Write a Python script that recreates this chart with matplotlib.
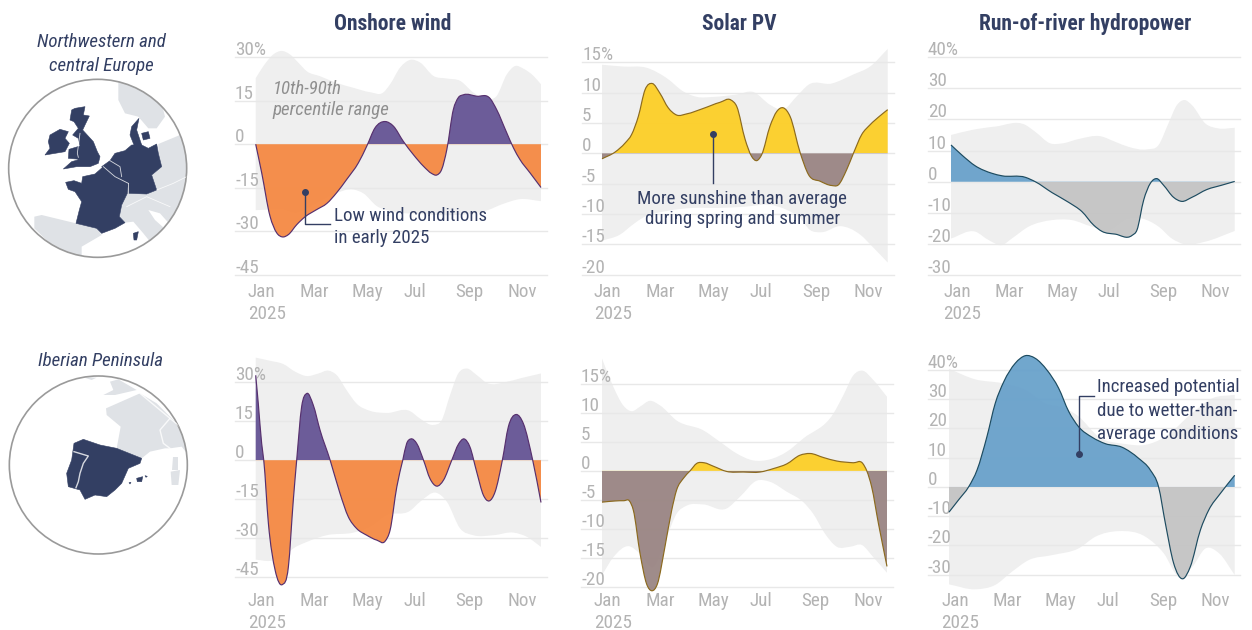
"""Renewable capacity factor anomalies, 2025, two regions by three technologies."""

import matplotlib
matplotlib.use("Agg")
import numpy as np
import matplotlib.pyplot as plt
from matplotlib import font_manager
from matplotlib.patches import Circle, PathPatch, Polygon, Rectangle
from matplotlib.path import Path
from matplotlib.transforms import ScaledTranslation

W, H = 1252, 630
NAVY = "#333f63"
TICK_GREY = "#b3b3b3"
BAND = "#efefef"
GRID = "#e8e8e8"

installed = {f.name for f in font_manager.fontManager.ttflist}
FONT = "Roboto Condensed" if "Roboto Condensed" in installed else "Roboto"
plt.rcParams["font.family"] = [FONT, "DejaVu Sans"]

month_ticks = [0, 2, 4, 6, 8, 10]
month_labels = ["Jan\n2025", "Mar", "May", "Jul", "Sep", "Nov"]

# x in months after January, y in percent
wind_nw_x = [0, .23, .55, .81, 1.03, 1.26, 1.58, 1.90, 2.35, 2.74, 3.12, 3.51, 3.96, 4.28, 4.60, 4.99, 5.31, 5.69,
             6.08, 6.47, 6.79, 6.98, 7.17, 7.37, 7.62, 7.81, 8.01, 8.52, 9.04, 9.29, 9.68, 9.94, 10.19, 10.58, 11]
wind_nw_y = [0, -9.8, -24.7, -30.5, -31.9, -31.1, -27.7, -25.0, -22.5, -20.4, -16.7, -12.1, -6.4, -.7, 5.6, 7.8, 6.2,
             1.0, -3.6, -7.6, -10.1, -10.6, -8.7, -1.8, 11.9, 16.0, 17.0, 16.5, 15.7, 11.9, 3.9, -1.3, -5.3, -9.9, -14.9]
wind_nw_hi_x = [0, .3, .68, 1, 1.32, 1.65, 1.97, 2.48, 3.12, 3.77, 4.41, 4.92, 5.18, 5.57, 5.95, 6.34, 6.85, 7.37,
                7.88, 8.39, 8.91, 9.29, 9.68, 10, 10.32, 10.71, 11]
wind_nw_hi = [22.7, 26.9, 30.9, 32.1, 30.9, 28, 25.1, 23.4, 21.1, 19.4, 17.9, 17.8, 20.6, 26.4, 29, 28.1, 23.5, 22.6,
              21.8, 17.8, 15.5, 16.6, 24, 26.9, 26, 23.5, 20.6]
wind_nw_lo_x = [0, .55, 1.07, 1.58, 1.9, 2.48, 2.99, 3.77, 4.15, 4.67, 5.18, 6.34, 7.62, 8.91, 9.55, 10.19, 11]
wind_nw_lo = [-22.7, -22.5, -22.5, -23.6, -22.5, -19.6, -17.3, -15.6, -16.9, -21.3, -23, -24, -24.4, -22.8, -20.5,
              -18.9, -19.6]

wind_ib_x = [0, .1, .23, .31, .49, .75, 1.03, 1.26, 1.45, 1.58, 1.77, 1.97, 2.22, 2.48, 2.87, 3.25, 3.57, 3.89, 4.28,
             4.67, 4.99, 5.18, 5.44, 5.67, 5.82, 5.99, 6.21, 6.47, 6.72, 6.98, 7.24, 7.56, 7.82, 8.03, 8.26, 8.52, 8.78,
             9, 9.23, 9.51, 9.74, 10.04, 10.32, 10.68, 11]
wind_ib_y = [32.7, 21.8, 6.4, 0, -24.4, -42.4, -47.9, -41.1, -15.4, 0, 20.5, 25.7, 21.2, 11.6, 0, -12.8, -21.8, -26.3,
             -28.9, -30.8, -31.2, -27, -10.3, 0, 6.4, 8.2, 6.4, 0, -7.1, -10, -7.7, 0, 6.2, 8.2, 5.1, -4.5, -13.5,
             -15.7, -12.2, 0, 12.8, 17.6, 14.1, 0, -16.3]
wind_ib_hi_x = [0, .55, 1.07, 1.52, 1.97, 2.42, 2.8, 3.12, 3.51, 3.89, 4.41, 5.05, 5.95, 6.34, 6.85, 7.17, 7.49, 7.81,
                8.14, 8.52, 8.91, 9.68, 10.19, 11]
wind_ib_hi = [39.5, 38.3, 37, 34.1, 32.4, 33.4, 34.5, 32.8, 26.9, 21.8, 19, 18.2, 18.9, 16, 13.6, 15.4, 25, 33.4, 35.3,
              32.8, 29.8, 30.2, 31.5, 33.4]
wind_ib_lo_x = [0, .55, 1.07, 1.45, 1.97, 2.74, 3.77, 4.41, 5.05, 5.95, 6.34, 6.98, 7.37, 7.88, 8.39, 9.17, 9.94, 10.45,
                11]
wind_ib_lo = [-38.3, -38.8, -37.2, -34, -31.5, -28.9, -27.9, -25.7, -21.2, -19.5, -16, -12.6, -16, -26.3, -28.9, -28.9,
              -27.9, -29.5, -33.4]

solar_nw_x = [0, .5, .89, 1.14, 1.4, 1.66, 1.94, 2.23, 2.55, 2.88, 3.26, 3.9, 4.54, 4.96, 5.19, 5.51, 5.76, 5.96, 6.15,
              6.47, 6.73, 6.98, 7.24, 7.63, 7.95, 8.4, 8.84, 9.1, 9.42, 9.68, 10, 10.32, 10.71, 11]
solar_nw_y = [-.9, .2, 1.7, 3.1, 6.1, 10.5, 11.5, 9.9, 7.5, 6.3, 6.5, 7.4, 8.4, 8.8, 7.7, 2.3, -.5, -1.2, -.2, 4.5, 6.9,
              7.5, 6.1, .1, -3.5, -4.6, -5.3, -5.2, -2.7, 0, 3.1, 4.7, 6.2, 7.2]
solar_nw_hi_x = [0, .82, 1.72, 2.49, 3.13, 3.65, 4.29, 5.19, 5.83, 6.47, 6.98, 7.5, 7.95, 8.84, 9.68, 10.32, 11]
solar_nw_hi = [14.6, 14.3, 14.1, 12.4, 10.2, 9.3, 9.3, 9.7, 10.1, 8, 7.2, 9.4, 11.3, 11.5, 13, 14.3, 17.2]
solar_nw_lo_x = [0, .69, 1.2, 1.58, 2.5, 3.5, 4.5, 5.5, 6.5, 7.1, 7.63, 8, 8.46, 9.17, 9.94, 10.44, 11]
solar_nw_lo = [-14.4, -13.4, -11.7, -10.6, -9.5, -9, -9, -8.8, -8.5, -9.3, -10.7, -12.6, -13, -12, -13.4, -15.5, -18]

solar_ib_x = [0, .5, .85, 1.06, 1.21, 1.47, 1.72, 1.93, 2.14, 2.43, 2.69, 2.88, 3.14, 3.4, 3.66, 3.94, 4.3, 4.81, 5.46,
              6.1, 6.62, 7.13, 7.64, 8.03, 8.55, 9.06, 9.7, 10.06, 10.22, 10.41, 10.67, 11]
solar_ib_y = [-5.4, -5.2, -5.15, -5.2, -6.8, -14.3, -19.5, -20.7, -19.5, -13.1, -6.8, -3.3, -1.3, 0, 1.3, 1.4, .8, -.1,
              -.2, -.2, .4, 1.2, 2.7, 3, 2.3, 1.7, 1.4, 1.3, 0, -2.8, -9.1, -16.5]
solar_ib_hi_x = [0, .44, .82, 1.15, 1.47, 1.85, 2.24, 2.88, 3.91, 4.56, 5.2, 5.84, 6.49, 7.13, 7.77, 8.93, 9.32, 9.7,
                 10.06, 10.47, 11]
solar_ib_hi = [19.4, 14.5, 11.3, 10.3, 11.1, 12.1, 11.3, 8.7, 7, 5, 3, 1.8, 2, 3.3, 5.6, 9.9, 13.1, 16.5, 17.3, 15.7,
               12.8]
solar_ib_lo_x = [0, .44, 1.02, 1.47, 1.98, 2.5, 2.88, 3.27, 3.91, 4.81, 5.32, 5.97, 6.49, 7.13, 7.77, 8.15, 8.6, 9.06,
                 9.58, 10.03, 10.47, 11]
solar_ib_lo = [-18, -14.9, -13, -14.3, -16.6, -11.4, -7.4, -6, -5.8, -6.5, -4.5, -1.7, -1.9, -3.6, -5.4, -7.4, -10.8,
               -13.1, -13.1, -12.8, -14.9, -17.6]

hydro_nw_x = [0, .43, .94, 1.59, 1.98, 2.89, 3.27, 3.92, 4.56, 5.08, 5.53, 5.85, 6.37, 7.02, 7.21, 7.47, 7.73, 7.98,
              8.24, 8.63, 8.95, 9.34, 9.92, 10.5, 11]
hydro_nw_y = [11.8, 8.5, 5.1, 2.7, 1.9, 1.4, 0, -3.5, -6.6, -9.6, -13.9, -15.9, -16.8, -17.2, -15.5, -5.9, -.5, 1, -1.1,
              -5, -6.3, -5, -2.5, -1.1, .1]
hydro_nw_hi_x = [0, .81, 1.72, 2.89, 3.27, 3.85, 4.31, 4.95, 5.79, 6.37, 6.88, 7.6, 8.05, 8.43, 8.76, 9.06, 9.34, 9.86,
                 10.37, 11]
hydro_nw_hi = [15, 16.6, 17.7, 18.2, 16, 12.3, 12.3, 13.7, 14.6, 12.8, 11.2, 10.4, 11.8, 18.7, 24.6, 26.2, 24.6, 18.7,
               17.1, 17.3]
hydro_nw_lo_x = [0, .94, 1.46, 1.98, 2.36, 3.01, 3.92, 4.69, 5.46, 6.11, 6.88, 7.4, 8.05, 8.56, 9.08, 9.86, 11]
hydro_nw_lo = [-18.2, -16, -18.7, -20.3, -18.2, -14.4, -12.3, -12.3, -14.4, -15.5, -11.8, -11.8, -14.4, -18.2, -20.1,
               -19.2, -15.8]

hydro_ib_x = [0, .37, .76, 1.08, 1.46, 1.78, 2.11, 2.55, 2.94, 3.32, 3.77, 4.22, 4.61, 4.99, 5.51, 6.02, 6.66, 7.3,
              7.75, 8.07, 8.33, 8.65, 9, 9.29, 9.68, 10, 10.45, 11]
hydro_ib_y = [-8.6, -4.4, .1, 5.8, 17.2, 28.6, 36, 42.3, 44.9, 44, 40, 33.8, 25.8, 20.6, 17, 14.8, 13.6, 9.8, 5.8, 0,
              -12.4, -26.1, -31.4, -27.3, -14.7, -7.9, -2.2, 4]
hydro_ib_hi_x = [0, 1.01, 2.04, 2.94, 3.71, 4.48, 4.99, 5.76, 6.79, 7.56, 8.33, 9.35, 10.13, 11]
hydro_ib_hi = [40.4, 36.8, 35.5, 33.2, 28.6, 26.9, 24.1, 17.2, 14.7, 14.4, 17.2, 25.2, 30.3, 31.5]
hydro_ib_lo_x = [0, 1.01, 1.78, 2.42, 3.07, 3.97, 4.99, 5.64, 6.53, 7.56, 8.27, 8.85, 9.37, 9.88, 10.4, 11]
hydro_ib_lo = [-33.3, -35, -33.5, -29, -25, -23.3, -21, -17, -15.1, -17, -22.7, -30.7, -27.3, -21, -22.7, -30.1]

wind_ticks = [30, 15, 0, -15, -30, -45]
solar_ticks = [15, 10, 5, 0, -5, -10, -15, -20]
hydro_ticks = [40, 30, 20, 10, 0, -10, -20, -30]

# map outlines, in 3x pixels of the map box
nw_navy = [
    [(197, 487), (222, 482), (245, 490), (248, 470), (285, 462), (310, 440), (330, 460), (385, 490), (382, 520),
     (365, 555), (358, 590), (375, 608), (345, 625), (305, 640), (290, 625), (228, 610), (238, 570), (245, 545),
     (225, 515), (205, 508)],
    [(305, 440), (330, 422), (345, 400), (375, 392), (395, 375), (425, 375), (445, 385), (470, 372), (475, 400),
     (485, 440), (455, 465), (470, 510), (440, 522), (385, 520), (385, 490), (330, 460)],
    [(395, 320), (417, 295), (410, 330), (425, 375), (402, 375), (390, 345)],
    [(425, 340), (445, 335), (450, 355), (430, 360)],
    [(225, 265), (255, 260), (250, 285), (268, 288), (255, 315), (248, 330), (280, 365), (292, 395), (300, 410),
     (295, 430), (270, 440), (230, 440), (190, 447), (215, 425), (240, 418), (205, 415), (207, 388), (240, 378),
     (235, 355), (218, 345), (235, 325), (222, 305), (210, 300), (215, 270)],
    [(150, 345), (180, 328), (205, 335), (195, 355), (208, 370), (195, 395), (135, 405), (150, 385), (145, 365)],
    [(400, 640), (415, 635), (410, 660), (402, 660)],
]
nw_grey = [
    [(355, 185), (420, 200), (480, 230), (495, 290), (470, 325), (445, 325), (415, 290), (375, 280), (355, 240)],
    [(475, 372), (540, 345), (575, 420), (570, 560), (520, 625), (480, 580), (445, 570), (465, 600), (510, 640),
     (470, 690), (430, 640), (400, 605), (375, 608), (358, 590), (365, 555), (382, 520), (440, 522), (470, 510),
     (455, 465), (485, 440), (475, 400)],
    [(103, 590), (125, 585), (228, 610), (290, 625), (305, 645), (245, 680), (245, 715), (170, 690), (103, 625)],
]
nw_borders = [
    [(310, 440), (345, 470), (385, 490)], [(330, 422), (360, 440), (365, 470)], [(240, 340), (232, 400), (235, 412)],
    [(385, 520), (385, 490)], [(470, 510), (520, 490), (560, 470)], [(380, 560), (440, 530), (510, 560)],
]
ib_navy = [
    [(222, 310), (250, 298), (300, 315), (350, 325), (425, 355), (420, 370), (385, 385), (365, 430), (345, 450),
     (320, 470), (285, 465), (255, 478), (240, 450), (205, 440), (200, 400), (215, 360)],
    [(410, 415), (428, 410), (425, 425), (412, 425)],
    [(435, 407), (442, 409), (438, 412)],
    [(387, 428), (393, 427), (390, 432)],
]
ib_grey = [
    [(318, 205), (420, 160), (470, 190), (510, 230), (552, 270), (565, 345), (545, 320), (510, 325), (495, 325),
     (450, 335), (425, 355), (350, 325), (362, 260), (320, 225)],
    [(310, 165), (340, 150), (330, 125), (355, 118), (410, 150), (345, 165)],
    [(250, 112), (290, 113), (275, 120)],
    [(520, 350), (535, 350), (535, 390), (515, 390)],
    [(512, 395), (540, 390), (535, 435), (515, 435)],
]
ib_borders = [
    [(222, 335), (265, 348), (250, 370), (240, 400), (235, 425), (228, 443)],
    [(420, 160), (480, 210), (510, 235), (480, 270), (490, 310), (510, 325)],
    [(510, 235), (552, 270)],
]


def px_axes(x0, y0, x1, y1):
    return fig.add_axes([x0 / W, 1 - y1 / H, (x1 - x0) / W, (y1 - y0) / H])


def curve(x, y):
    """Bezier segments through the read points, tangents from the neighbours."""
    x, y = np.asarray(x, float), np.asarray(y, float)
    m = np.gradient(y, x)
    verts = [(x[0], y[0])]
    for i in range(len(x) - 1):
        h = (x[i + 1] - x[i]) / 3
        verts += [(x[i] + h, y[i] + m[i] * h), (x[i + 1] - h, y[i + 1] - m[i + 1] * h), (x[i + 1], y[i + 1])]
    return verts


def codes_for(n_curve_verts, first=Path.MOVETO):
    return [first] + [Path.CURVE4] * (n_curve_verts - 1)


def draw_panel(box, ticks, label_top, x, y, hi_x, hi, lo_x, lo, pos, neg, edge, fill_alpha=.93):
    x0, y_top, x1, y_bottom, x_start, x_end = box
    ax = px_axes(x0, y_top, x1, y_bottom)
    per_month = (x_end - x_start) / 11

    top = curve(hi_x, hi)
    bottom = curve(lo_x[::-1], lo[::-1])
    band = Path(top + bottom + [top[0]],
                codes_for(len(top)) + codes_for(len(bottom), Path.LINETO) + [Path.LINETO])
    ax.add_patch(PathPatch(band, fc=BAND, ec="none", zorder=.2, clip_on=False))

    line = curve(x, y)
    area = Path(line + [(x[-1], 0), (x[0], 0), line[0]],
                codes_for(len(line)) + [Path.LINETO] * 3)
    for color, rect_y, rect_h in [(pos, 0, 300), (neg, -300, 300)]:
        patch = PathPatch(area, fc=color, ec="none", alpha=fill_alpha, zorder=2)
        ax.add_patch(patch)
        patch.set_clip_path(Rectangle((-2, rect_y), 16, rect_h, transform=ax.transData))
    ax.add_patch(PathPatch(Path(line, codes_for(len(line))), fc="none", ec=edge, lw=.85, zorder=3, clip_on=False))

    ax.set_xlim(-(x_start - x0) / per_month, 11 + (x1 - x_end) / per_month)
    ax.set_ylim(min(ticks), max(ticks))
    ax.set_yticks(ticks)
    labels = [str(t) for t in ticks]
    labels[0] += "%"
    ax.set_yticklabels(labels, ha="left", va="bottom", color=TICK_GREY, fontsize=TICK_SIZE)
    ax.set_xticks(month_ticks)
    ax.set_xticklabels(month_labels, color=TICK_GREY, fontsize=TICK_SIZE, linespacing=1.27, ha="left", va="top")
    ax.tick_params(axis="both", length=0)
    ax.tick_params(axis="y", pad=0)
    ax.tick_params(axis="x", pad=(label_top - y_bottom) * .72)
    # set after tick_params, which resets the label transforms
    for lab in ax.get_xticklabels():
        lab.set_transform(lab.get_transform() + ScaledTranslation(-8 / 100, 0, fig.dpi_scale_trans))
    for lab in ax.get_yticklabels():
        lab.set_transform(lab.get_transform() + ScaledTranslation(0, -2 / 100, fig.dpi_scale_trans))
    ax.grid(axis="y", color=GRID, lw=1)
    for g in ax.get_ygridlines():
        g.set_clip_on(False)
    ax.set_axisbelow(True)
    ax.patch.set_visible(False)
    for s in ax.spines.values():
        s.set_visible(False)
    return ax


def draw_map(y_origin, navy, grey, borders, center, border_lw):
    ax = px_axes(0, y_origin, 200, y_origin + 270)
    ax.set_xlim(0, 600)
    ax.set_ylim(810, 0)
    ax.axis("off")
    ax.patch.set_visible(False)
    clip = Circle(center, 267, transform=ax.transData)
    for pts in grey:
        ax.add_patch(Polygon(pts, fc="#dfe2e6", ec="none", clip_path=clip))
    for pts in navy:
        ax.add_patch(Polygon(pts, fc=NAVY, ec=NAVY, lw=.4, clip_path=clip))
    for pts in borders:
        ax.plot(*zip(*pts), color="#ffffff", lw=border_lw, alpha=.8, clip_path=clip)
    ax.add_patch(Circle(center, 267, fc="none", ec="#9a9a9a", lw=1.2, clip_on=False))


TICK_SIZE = 13.8
NOTE_SIZE = 13.6
fig = plt.figure(figsize=(W / 100, H / 100), dpi=100)

WIND = ("#625193", "#f5873f", "#57306e")
SOLAR = ("#fdce22", "#988381", "#8c6a1e")
HYDRO = ("#66a0ca", "#c3c3c3", "#1d4b60")

ax_a = draw_panel((235, 57, 547, 275, 255.7, 541), wind_ticks, 283, wind_nw_x, wind_nw_y, wind_nw_hi_x, wind_nw_hi,
                  wind_nw_lo_x, wind_nw_lo, *WIND)
ax_b = draw_panel((582, 62.3, 894, 274.7, 602, 887.7), solar_ticks, 283, solar_nw_x, solar_nw_y, solar_nw_hi_x,
                  solar_nw_hi, solar_nw_lo_x, solar_nw_lo, *SOLAR)
ax_c = draw_panel((927.7, 57, 1240, 275.3, 951, 1234.7), hydro_ticks, 283, hydro_nw_x, hydro_nw_y, hydro_nw_hi_x,
                  hydro_nw_hi, hydro_nw_lo_x, hydro_nw_lo, *HYDRO)
ax_d = draw_panel((235, 382.3, 547, 577, 255.7, 541), wind_ticks, 592, wind_ib_x, wind_ib_y, wind_ib_hi_x, wind_ib_hi,
                  wind_ib_lo_x, wind_ib_lo, *WIND)
ax_e = draw_panel((581, 384, 893, 586.7, 602, 887), solar_ticks, 592, solar_ib_x, solar_ib_y, solar_ib_hi_x,
                  solar_ib_hi, solar_ib_lo_x, solar_ib_lo, *SOLAR)
ax_f = draw_panel((927.7, 370, 1240, 574.7, 949, 1234.7), hydro_ticks, 592, hydro_ib_x, hydro_ib_y, hydro_ib_hi_x,
                  hydro_ib_hi, hydro_ib_lo_x, hydro_ib_lo, *HYDRO)

for cx, label in [(393, "Onshore wind"), (739, "Solar PV"), (1085, "Run-of-river hydropower")]:
    fig.text(cx / W, 1 - 24 / H, label, ha="center", va="center", color=NAVY, fontsize=15.5, fontweight="bold")

# annotations
ax_a.text(.66, 15.3, "10th-90th\npercentile range", color="#8f8f8f", style="italic", fontsize=NOTE_SIZE, va="center",
          linespacing=1.21, zorder=4)
ax_a.plot([1.9, 1.9, 2.87], [-16.6, -27.6, -27.6], color=NAVY, lw=1, zorder=4)
ax_a.plot([1.9], [-16.6], "o", color=NAVY, ms=4, zorder=5)
ax_a.text(3.02, -28.6, "Low wind conditions\nin early 2025", color=NAVY, fontsize=NOTE_SIZE, va="center",
          linespacing=1.27, zorder=5)
ax_b.plot([4.26, 4.26], [3.2, -4.9], color=NAVY, lw=1, zorder=4)
ax_b.plot([4.26], [3.2], "o", color=NAVY, ms=4, zorder=5)
ax_b.text(5.4, -9.2, "More sunshine than average\nduring spring and summer", color=NAVY, fontsize=NOTE_SIZE,
          ha="center", va="center", linespacing=1.1, zorder=5)
ax_f.plot([4.99, 4.99, 5.6], [11.2, 31.1, 31.1], color=NAVY, lw=1, zorder=4)
ax_f.plot([4.99], [11.2], "o", color=NAVY, ms=4, zorder=5)
ax_f.text(5.7, 26.1, "Increased potential\ndue to wetter-than-\naverage conditions", color=NAVY, fontsize=NOTE_SIZE,
          va="center", linespacing=1.39, zorder=5)

draw_map(20, nw_navy, nw_grey, nw_borders, (293, 445), .6)
draw_map(340, ib_navy, ib_grey, ib_borders, (295, 375), 1)
fig.text(101 / W, 1 - 54 / H, "Northwestern and\ncentral Europe", ha="center", va="center", color=NAVY,
         style="italic", fontsize=NOTE_SIZE, linespacing=1.39)
fig.text(100 / W, 1 - 361 / H, "Iberian Peninsula", ha="center", va="center", color=NAVY, style="italic",
         fontsize=NOTE_SIZE)

fig.savefig("out.png", dpi=100)
